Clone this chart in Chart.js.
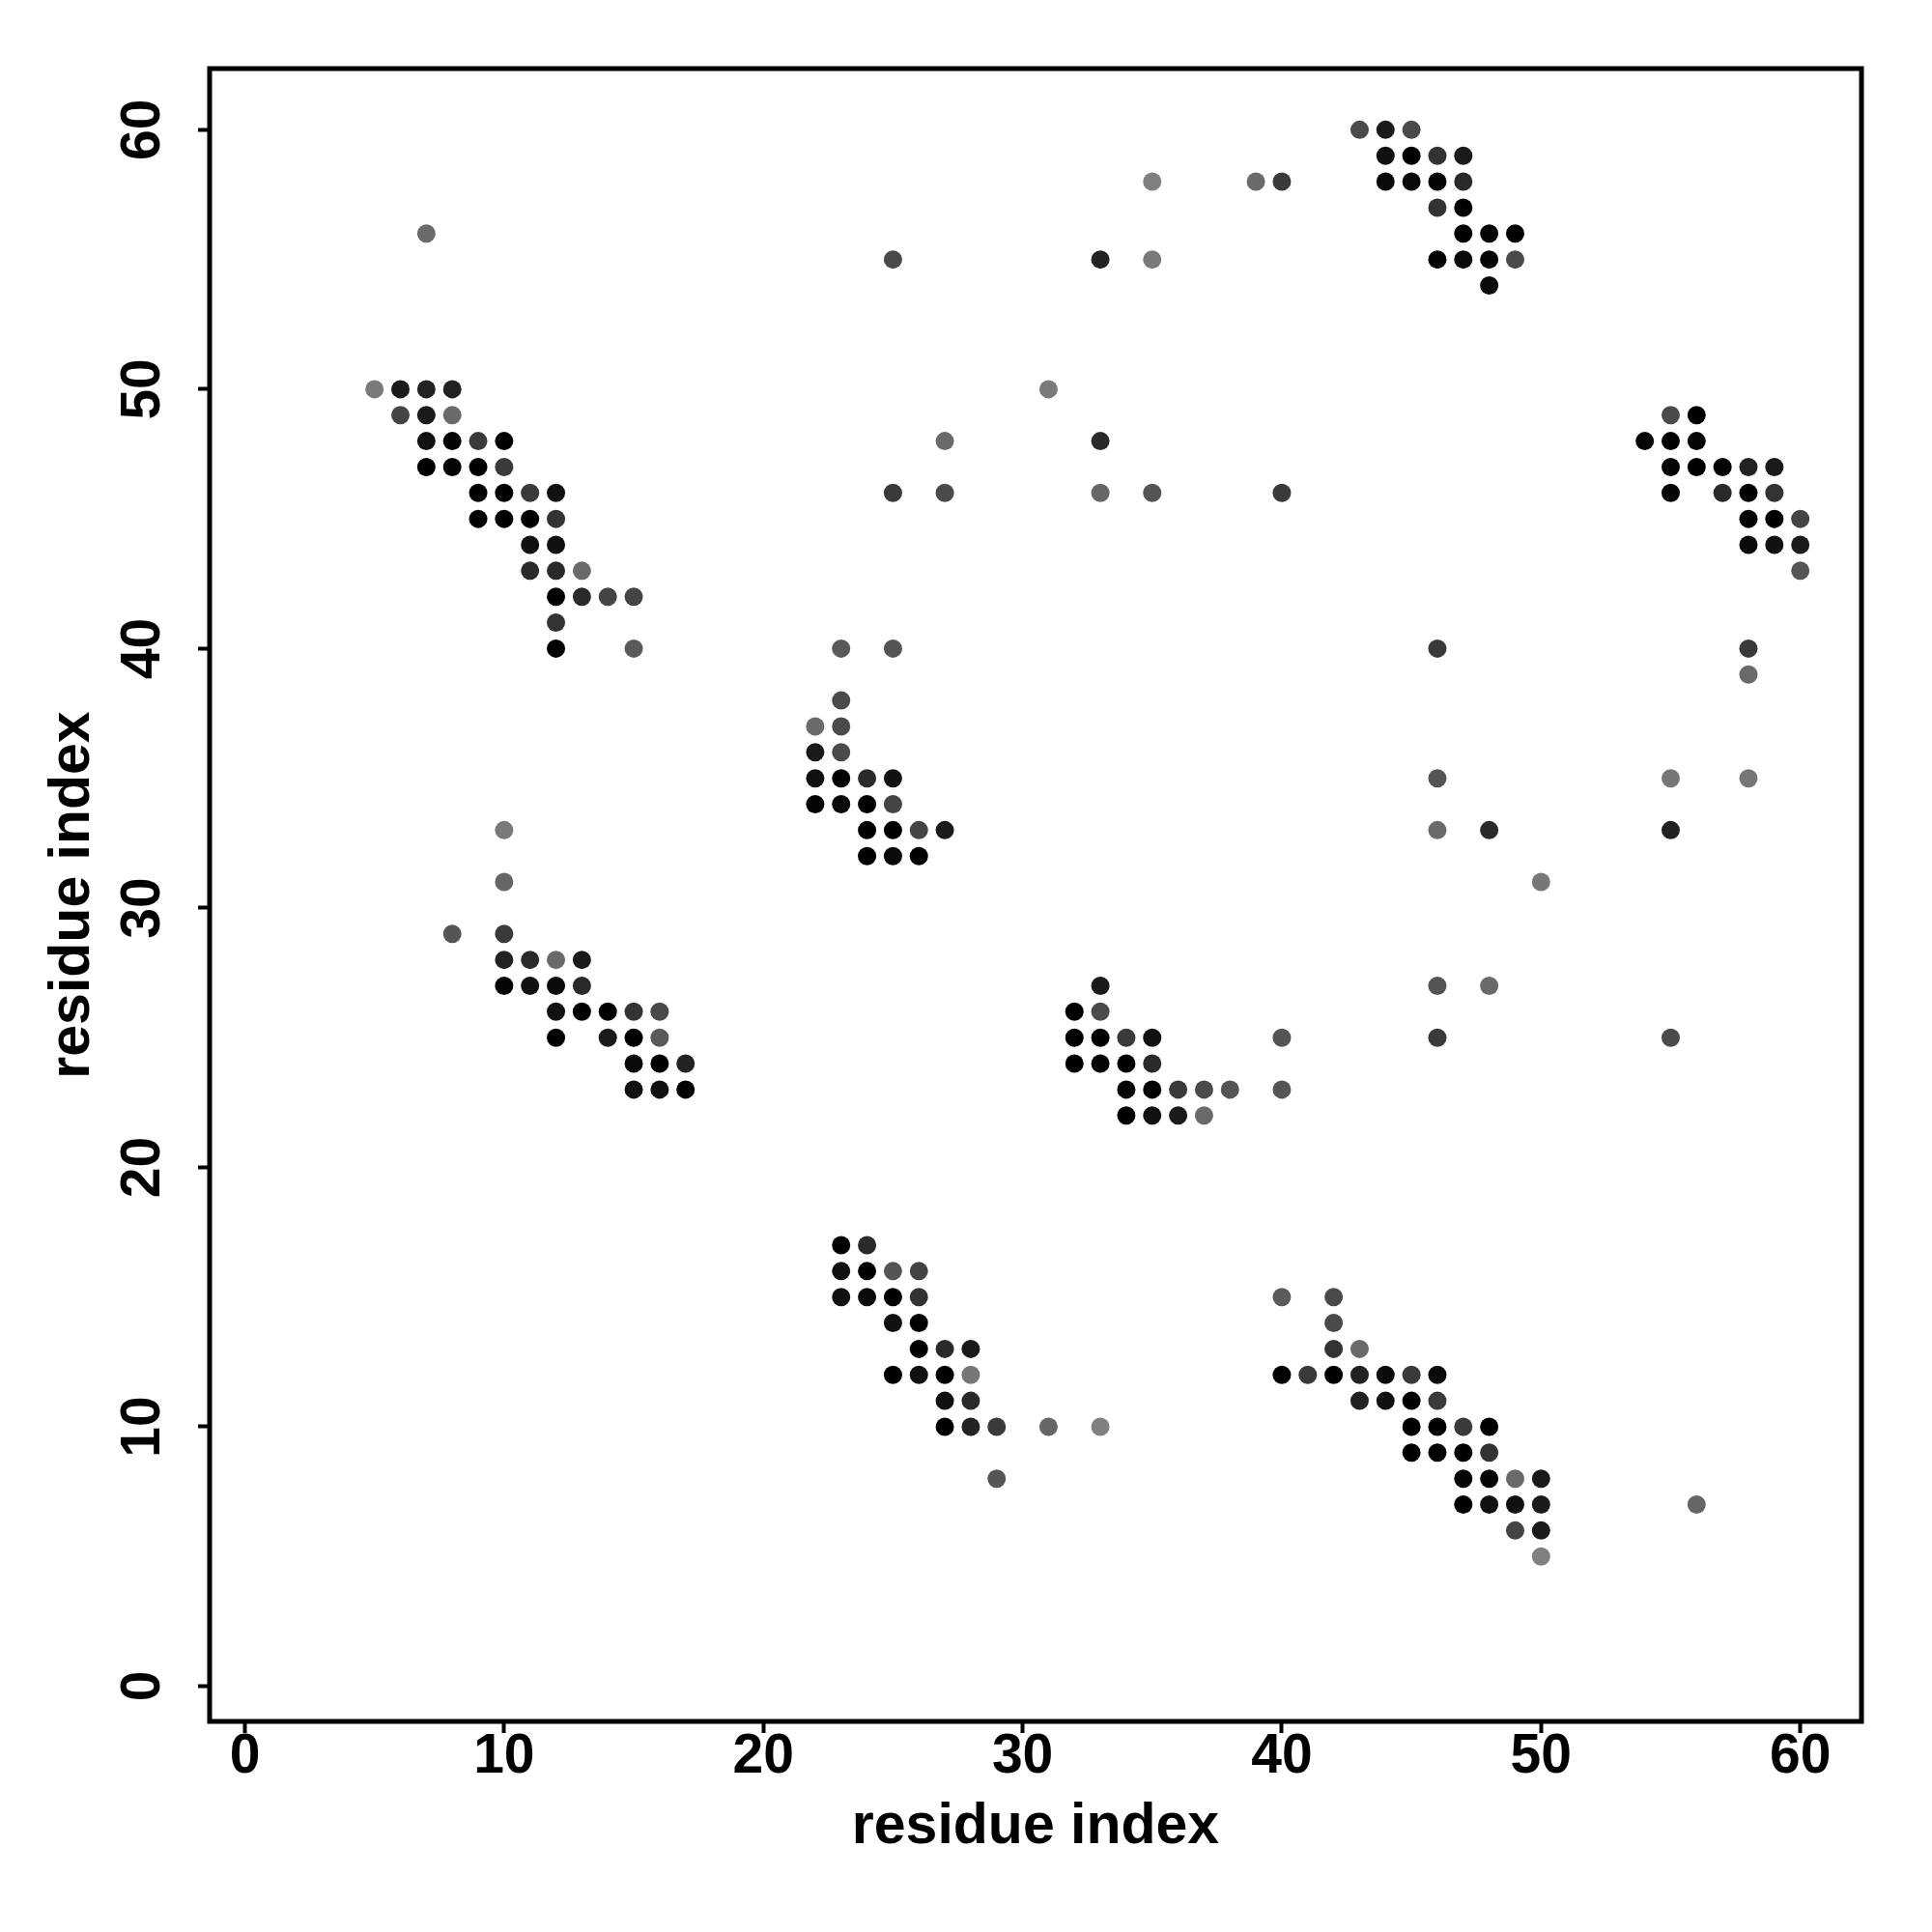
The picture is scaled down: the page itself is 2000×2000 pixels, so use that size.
<!DOCTYPE html>
<html>
<head>
<meta charset="utf-8">
<script src="https://cdn.jsdelivr.net/npm/chart.js@4.4.1/dist/chart.umd.min.js"></script>
<style>
  html, body { margin: 0; padding: 0; background: #fff; }
  canvas { display: block; }
</style>
</head>
<body>
<canvas id="contactMap" width="2000" height="2000"></canvas>
<script>
const xTicks = [0, 10, 20, 30, 40, 50, 60];
const yTicks = [0, 10, 20, 30, 40, 50, 60];

// one line per row of the map (same y)
const contactX = [
  43, 44, 45,
  44, 45, 46, 47,
  35, 39, 40, 44, 45, 46, 47,
  46, 47,
  7, 47, 48, 49,
  25, 33, 35, 46, 47, 48, 49,
  48,
  5, 6, 7, 8, 31,
  6, 7, 8, 55, 56,
  7, 8, 9, 10, 27, 33, 54, 55, 56,
  7, 8, 9, 10, 55, 56, 57, 58, 59,
  9, 10, 11, 12, 25, 27, 33, 35, 40, 55, 57, 58, 59,
  9, 10, 11, 12, 58, 59, 60,
  11, 12, 58, 59, 60,
  11, 12, 13, 60,
  12, 13, 14, 15,
  12,
  12, 15, 23, 25, 46, 58,
  58,
  23,
  22, 23,
  22, 23,
  22, 23, 24, 25, 46, 55, 58,
  22, 23, 24, 25,
  10, 24, 25, 26, 27, 46, 48, 55,
  24, 25, 26,
  10, 50,
  8, 10,
  10, 11, 12, 13,
  10, 11, 12, 13, 33, 46, 48,
  12, 13, 14, 15, 16, 32, 33,
  12, 14, 15, 16, 32, 33, 34, 35, 40, 46, 55,
  15, 16, 17, 32, 33, 34, 35,
  15, 16, 17, 34, 35, 36, 37, 38, 40,
  34, 35, 36, 37,
  23, 24,
  23, 24, 25, 26,
  23, 24, 25, 26, 40, 42,
  25, 26, 42,
  26, 27, 28, 42, 43,
  25, 26, 27, 28, 40, 41, 42, 43, 44, 45, 46,
  27, 28, 43, 44, 45, 46,
  27, 28, 29, 31, 33, 45, 46, 47, 48,
  45, 46, 47, 48,
  29, 47, 48, 49, 50,
  47, 48, 49, 50, 56,
  49, 50,
  50
];

const contactY = [
  60, 60, 60,
  59, 59, 59, 59,
  58, 58, 58, 58, 58, 58, 58,
  57, 57,
  56, 56, 56, 56,
  55, 55, 55, 55, 55, 55, 55,
  54,
  50, 50, 50, 50, 50,
  49, 49, 49, 49, 49,
  48, 48, 48, 48, 48, 48, 48, 48, 48,
  47, 47, 47, 47, 47, 47, 47, 47, 47,
  46, 46, 46, 46, 46, 46, 46, 46, 46, 46, 46, 46, 46,
  45, 45, 45, 45, 45, 45, 45,
  44, 44, 44, 44, 44,
  43, 43, 43, 43,
  42, 42, 42, 42,
  41,
  40, 40, 40, 40, 40, 40,
  39,
  38,
  37, 37,
  36, 36,
  35, 35, 35, 35, 35, 35, 35,
  34, 34, 34, 34,
  33, 33, 33, 33, 33, 33, 33, 33,
  32, 32, 32,
  31, 31,
  29, 29,
  28, 28, 28, 28,
  27, 27, 27, 27, 27, 27, 27,
  26, 26, 26, 26, 26, 26, 26,
  25, 25, 25, 25, 25, 25, 25, 25, 25, 25, 25,
  24, 24, 24, 24, 24, 24, 24,
  23, 23, 23, 23, 23, 23, 23, 23, 23,
  22, 22, 22, 22,
  17, 17,
  16, 16, 16, 16,
  15, 15, 15, 15, 15, 15,
  14, 14, 14,
  13, 13, 13, 13, 13,
  12, 12, 12, 12, 12, 12, 12, 12, 12, 12, 12,
  11, 11, 11, 11, 11, 11,
  10, 10, 10, 10, 10, 10, 10, 10, 10,
  9, 9, 9, 9,
  8, 8, 8, 8, 8,
  7, 7, 7, 7, 7,
  6, 6,
  5
];

// grey level of each dot (0 = black)
const contactGray = [
  74, 26, 74,
  17, 0, 51, 26,
  128, 106, 58, 10, 10, 5, 42,
  51, 0,
  106, 0, 5, 0,
  74, 34, 122, 5, 10, 5, 74,
  10,
  122, 26, 34, 34, 122,
  68, 26, 106, 74, 0,
  17, 5, 58, 0, 106, 42, 5, 0, 5,
  0, 5, 0, 58, 5, 0, 5, 34, 26,
  0, 0, 58, 17, 58, 74, 102, 85, 58, 5, 42, 0, 51,
  0, 0, 0, 51, 5, 0, 68,
  17, 17, 10, 17, 26,
  42, 42, 106, 85,
  0, 42, 68, 68,
  51,
  0, 90, 90, 85, 58, 58,
  106,
  74,
  106, 74,
  26, 74,
  17, 0, 42, 17, 85, 119, 119,
  5, 10, 0, 68,
  122, 0, 0, 68, 26, 106, 42, 34,
  0, 10, 0,
  102, 119,
  85, 58,
  34, 42, 106, 26,
  5, 17, 10, 42, 26, 85, 106,
  17, 0, 0, 51, 74, 0, 74,
  0, 26, 0, 90, 0, 0, 58, 17, 85, 58, 74,
  10, 0, 34, 0, 5, 0, 42,
  17, 17, 0, 5, 0, 58, 74, 85, 85,
  0, 17, 26, 106,
  0, 42,
  17, 0, 85, 68,
  17, 10, 0, 51, 90, 74,
  17, 0, 74,
  0, 42, 26, 51, 106,
  0, 17, 0, 119, 0, 58, 0, 34, 10, 58, 10,
  17, 42, 34, 17, 0, 58,
  0, 34, 58, 102, 128, 0, 0, 58, 0,
  0, 0, 0, 51,
  85, 5, 5, 106, 26,
  0, 17, 17, 26, 102,
  68, 26,
  128
];

if (contactX.length !== contactY.length || contactX.length !== contactGray.length) {
  console.error("length mismatch", contactX.length, contactY.length, contactGray.length);
}

const FONT = "'Liberation Sans', Arial, sans-serif";

const points = contactX.map((x, i) => ({ x: x, y: contactY[i] }));
const colors = contactGray.map(g => `rgb(${g},${g},${g})`);

// frame round the plotting region, like R's box()
const boxPlugin = {
  id: "plotBox",
  afterDraw(chart) {
    const { ctx, chartArea: a } = chart;
    ctx.save();
    ctx.strokeStyle = "#000";
    ctx.lineWidth = 5;
    ctx.strokeRect(a.left, a.top, a.right - a.left, a.bottom - a.top);
    ctx.restore();
  }
};

const tickGrid = {
  drawOnChartArea: false,
  drawTicks: true,
  tickLength: 12,
  tickWidth: 4,
  tickColor: "#000"
};

new Chart(document.getElementById("contactMap"), {
  type: "scatter",
  data: {
    datasets: [{
      data: points,
      pointRadius: 9.5,
      pointHoverRadius: 9.5,
      pointBorderWidth: 0,
      pointBackgroundColor: colors,
      pointBorderColor: colors
    }]
  },
  options: {
    responsive: false,
    devicePixelRatio: 1,
    animation: false,
    layout: { padding: { left: 0, top: 71, right: 73, bottom: 0 } },
    plugins: {
      legend: { display: false },
      tooltip: { enabled: false }
    },
    scales: {
      x: {
        type: "linear",
        position: "bottom",
        min: -1.36,
        max: 62.36,
        afterBuildTicks: s => { s.ticks = xTicks.map(v => ({ value: v })); },
        afterFit: s => { s.height = 218; },
        grid: tickGrid,
        border: { display: false },
        ticks: {
          color: "#000",
          font: { family: FONT, size: 57, weight: "bold", lineHeight: 1 },
          padding: -3,
          minRotation: 0,
          maxRotation: 0,
          autoSkip: false
        },
        title: {
          display: true,
          text: "residue index",
          color: "#000",
          font: { family: FONT, size: 59, weight: "bold", lineHeight: 1 },
          padding: { top: 0, bottom: 79 }
        }
      },
      y: {
        type: "linear",
        position: "left",
        min: -1.36,
        max: 62.36,
        afterBuildTicks: s => { s.ticks = yTicks.map(v => ({ value: v })); },
        afterFit: s => { s.width = 217; },
        grid: tickGrid,
        border: { display: false },
        ticks: {
          color: "#000",
          font: { family: FONT, size: 57, weight: "bold", lineHeight: 1 },
          padding: 24,
          minRotation: 90,
          maxRotation: 90,
          crossAlign: "center",
          autoSkip: false
        },
        title: {
          display: true,
          text: "residue index",
          color: "#000",
          font: { family: FONT, size: 59, weight: "bold", lineHeight: 1 },
          padding: { top: 46, bottom: 0 }
        }
      }
    }
  },
  plugins: [boxPlugin]
});
</script>
</body>
</html>
